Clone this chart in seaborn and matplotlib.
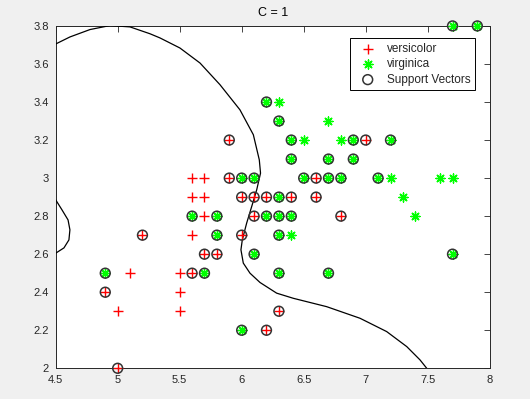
import numpy as np
import pandas as pd
import matplotlib
matplotlib.use("Agg")
import matplotlib.pyplot as plt
import seaborn as sns

# ---- data ----
vers_x = [5.6, 5.7, 5.6, 5.7, 5.7, 5.6, 5.1, 5.5, 5.5, 5.0, 5.5,
          5.9, 5.9, 6.6, 7.0, 6.0, 6.1, 6.2, 6.4, 6.6, 6.1, 6.8, 5.2, 6.0,
          5.7, 5.8, 5.6, 4.9, 6.3, 6.2, 5.0]
vers_y = [3.0, 3.0, 2.9, 2.9, 2.8, 2.7, 2.5, 2.5, 2.4, 2.3, 2.3,
          3.2, 3.0, 3.0, 3.2, 2.9, 2.9, 2.9, 2.9, 2.9, 2.8, 2.8, 2.7, 2.7,
          2.6, 2.6, 2.5, 2.4, 2.3, 2.2, 2.0]

virg_x = [6.3, 6.7, 6.5, 6.8, 7.2, 7.6, 7.7, 7.3, 7.4, 6.4,
          7.7, 7.9, 6.2, 6.3, 6.4, 6.9, 7.2, 6.4, 6.7, 6.9, 6.0, 6.1, 6.5,
          6.7, 6.8, 7.1, 6.3, 5.6, 5.8, 6.2, 6.3, 6.4, 5.8, 6.3, 6.1, 7.7,
          4.9, 5.7, 6.3, 6.7, 6.0]
virg_y = [3.4, 3.3, 3.2, 3.2, 3.0, 3.0, 3.0, 2.9, 2.8, 2.7,
          3.8, 3.8, 3.4, 3.3, 3.2, 3.2, 3.2, 3.1, 3.1, 3.1, 3.0, 3.0, 3.0,
          3.0, 3.0, 3.0, 2.9, 2.8, 2.8, 2.8, 2.8, 2.8, 2.7, 2.7, 2.6, 2.6,
          2.5, 2.5, 2.5, 2.5, 2.2]

sv_x = [5.9, 5.9, 6.6, 7.0, 6.0, 6.1, 6.2, 6.4, 6.6, 6.1, 6.8, 5.2, 6.0,
        5.7, 5.8, 5.6, 4.9, 6.3, 6.2, 5.0,
        7.7, 7.9, 6.2, 6.3, 6.4, 6.9, 7.2, 6.4, 6.7, 6.9, 6.0, 6.1, 6.5,
        6.7, 6.8, 7.1, 6.3, 5.6, 5.8, 6.2, 6.3, 6.4, 5.8, 6.3, 6.1, 7.7,
        4.9, 5.7, 6.3, 6.7, 6.0]
sv_y = [3.2, 3.0, 3.0, 3.2, 2.9, 2.9, 2.9, 2.9, 2.9, 2.8, 2.8, 2.7, 2.7,
        2.6, 2.6, 2.5, 2.4, 2.3, 2.2, 2.0,
        3.8, 3.8, 3.4, 3.3, 3.2, 3.2, 3.2, 3.1, 3.1, 3.1, 3.0, 3.0, 3.0,
        3.0, 3.0, 3.0, 2.9, 2.8, 2.8, 2.8, 2.8, 2.8, 2.7, 2.7, 2.6, 2.6,
        2.5, 2.5, 2.5, 2.5, 2.2]

# decision boundary (traced)
bnd1_x = [4.500, 4.615, 4.777, 4.938, 5.099, 5.260, 5.341, 5.502, 5.664,
          5.825, 5.986, 6.094, 6.142, 6.152, 6.121, 6.081, 6.040, 6.005,
          5.994, 6.013, 6.067, 6.148, 6.282, 6.416, 6.685, 6.954, 7.169,
          7.331, 7.438, 7.492]
bnd1_y = [3.705, 3.742, 3.781, 3.802, 3.795, 3.759, 3.737, 3.684, 3.605,
          3.491, 3.359, 3.228, 3.096, 3.026, 2.938, 2.851, 2.763, 2.675,
          2.623, 2.553, 2.500, 2.451, 2.395, 2.368, 2.324, 2.263, 2.193,
          2.114, 2.044, 2.000]
bnd2_x = [4.500, 4.551, 4.600, 4.615, 4.607, 4.567, 4.500]
bnd2_y = [2.886, 2.833, 2.780, 2.728, 2.675, 2.633, 2.605]

x_ticks = [4.5, 5, 5.5, 6, 6.5, 7, 7.5, 8]
x_labels = ["4.5", "5", "5.5", "6", "6.5", "7", "7.5", "8"]
y_ticks = [2, 2.2, 2.4, 2.6, 2.8, 3, 3.2, 3.4, 3.6, 3.8]
y_labels = ["2", "2.2", "2.4", "2.6", "2.8", "3", "3.2", "3.4", "3.6", "3.8"]

# ---- style ----
sns.set_theme(style="white")
plt.rcParams["font.family"] = ["Liberation Sans", "DejaVu Sans"]
axcol = "#262626"

fig = plt.figure(figsize=(5.30, 3.99), dpi=100, facecolor="#f0f0f0")
ax = fig.add_axes([0.105, 0.077, 0.819, 0.858])
ax.set_facecolor("white")

sns.scatterplot(x=vers_x, y=vers_y, ax=ax, marker="+", color="red",
                s=46, linewidth=1.0, label="versicolor", zorder=3,
                clip_on=False)
sns.scatterplot(x=virg_x, y=virg_y, ax=ax, marker=(8, 2, 0), color="#00ff00",
                s=42, linewidth=1.0, label="virginica", zorder=3,
                clip_on=False)
sns.scatterplot(x=sv_x, y=sv_y, ax=ax, marker="o", facecolor="none",
                edgecolor="#333333", s=50, linewidth=1.1,
                label="Support Vectors", zorder=4, clip_on=False)

sns.lineplot(x=bnd1_x, y=bnd1_y, ax=ax, sort=False, estimator=None,
             color="black", linewidth=0.9, zorder=2)
sns.lineplot(x=bnd2_x, y=bnd2_y, ax=ax, sort=False, estimator=None,
             color="black", linewidth=0.9, zorder=2)

ax.set_xlim(4.5, 8)
ax.set_ylim(2, 3.8)
ax.set_xticks(x_ticks)
ax.set_xticklabels(x_labels)
ax.set_yticks(y_ticks)
ax.set_yticklabels(y_labels)
ax.tick_params(direction="in", length=4, width=0.6, colors=axcol,
               labelsize=8, top=True, right=True, pad=5)
for sp in ax.spines.values():
    sp.set_visible(True)
    sp.set_color(axcol)
    sp.set_linewidth(0.7)
    sp.set_zorder(1)
ax.set_xlabel("")
ax.set_ylabel("")
ax.set_title("C = 1", fontsize=9, color="black", pad=7)

leg = ax.legend(loc="upper right", bbox_to_anchor=(0.966, 0.965),
                borderaxespad=0, fontsize=8.5, frameon=True, fancybox=False,
                framealpha=1, edgecolor="black", handletextpad=0.5,
                labelspacing=0.3, borderpad=0.4, handlelength=2.2)
leg.get_frame().set_linewidth(0.7)
leg.set_zorder(6)

fig.savefig("out.png", dpi=100, facecolor=fig.get_facecolor())
